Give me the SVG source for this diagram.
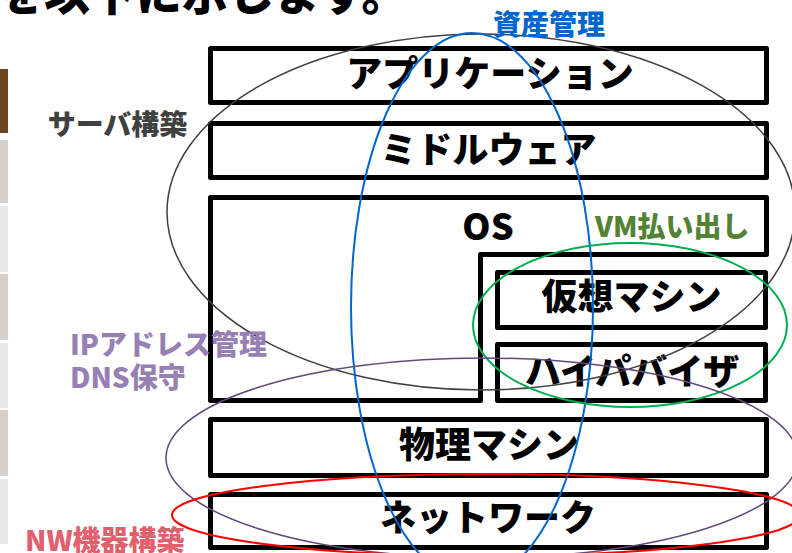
<svg xmlns="http://www.w3.org/2000/svg" width="792" height="553" viewBox="0 0 792 553">
<style>
  text { font-family: "Noto Sans CJK JP", "Noto Sans", sans-serif; font-weight: 900; }
  .box { fill: #ffffff; stroke: #000000; stroke-width: 5; stroke-linejoin: round; }
  .bt { font-size: 36px; fill: #000000; text-anchor: middle; }
  .lb { font-size: 28px; }
  .ell { fill: none; }
</style>
<rect width="792" height="553" fill="#ffffff"/>
<g id="sidebar">
  <rect x="0" y="69" width="8" height="64" fill="#6B4420"/>
  <rect x="0" y="140" width="8" height="63" fill="#D6CFCB"/>
  <rect x="0" y="206" width="8" height="66" fill="#ECE8E5"/>
  <rect x="0" y="274" width="8" height="66" fill="#D6CFCB"/>
  <rect x="0" y="343" width="8" height="65" fill="#ECE8E5"/>
  <rect x="0" y="410" width="8" height="66" fill="#D6CFCB"/>
  <rect x="0" y="479" width="8" height="65" fill="#ECE8E5"/>
</g>
<text x="-2" y="10" font-size="46" fill="#000000">を以下に示します。</text>
<g id="application">
  <rect class="box" x="210.5" y="48.5" width="556" height="54"/>
  <text class="bt" x="490" y="87">アプリケーション</text>
</g>
<g id="middleware">
  <rect class="box" x="210.5" y="123.5" width="556" height="54"/>
  <text class="bt" x="488.5" y="163">ミドルウェア</text>
</g>
<g id="os">
  <polygon class="box" points="210.5,197.5 766.5,197.5 766.5,254.5 480.5,254.5 480.5,400.5 210.5,400.5"/>
  <text class="bt" x="488" y="240">OS</text>
</g>
<g id="vm">
  <rect class="box" x="497.5" y="272.5" width="268" height="55"/>
  <text class="bt" x="631.5" y="310">仮想マシン</text>
</g>
<g id="hypervisor">
  <rect class="box" x="497.5" y="344.5" width="268" height="56"/>
  <text class="bt" x="632" y="385">ハイパバイザ</text>
</g>
<g id="physical">
  <rect class="box" x="210.5" y="419.5" width="556" height="56"/>
  <text class="bt" x="489" y="458">物理マシン</text>
</g>
<g id="network">
  <rect class="box" x="210.5" y="494.5" width="556" height="53"/>
  <text class="bt" x="488" y="531">ネットワーク</text>
</g>
<g id="connectors">
  <ellipse class="ell" cx="481" cy="212" rx="314" ry="178" stroke="#404040" stroke-width="1.5"/>
  <ellipse class="ell" cx="472" cy="307" rx="121" ry="274" stroke="#0066CC" stroke-width="2"/>
  <ellipse class="ell" cx="630" cy="325" rx="157" ry="82" stroke="#00B050" stroke-width="2"/>
  <ellipse class="ell" cx="482" cy="458" rx="316" ry="100" stroke="#604A7B" stroke-width="1.5"/>
  <ellipse class="ell" cx="486" cy="515" rx="314" ry="41" stroke="#FF0000" stroke-width="2"/>
</g>
<g id="labels">
  <text class="lb" x="549" y="35" fill="#0066CC" text-anchor="middle">資産管理</text>
  <text class="lb" x="117.5" y="135" fill="#404040" text-anchor="middle">サーバ構築</text>
  <text class="lb" x="595" y="237" fill="#548235">VM払い出し</text>
  <text class="lb" fill="#9680B4"><tspan x="70" y="355">IPアドレス管理</tspan><tspan x="70" y="388">DNS保守</tspan></text>
  <text class="lb" x="25" y="551" fill="#E0606E">NW機器構築</text>
</g>
</svg>
